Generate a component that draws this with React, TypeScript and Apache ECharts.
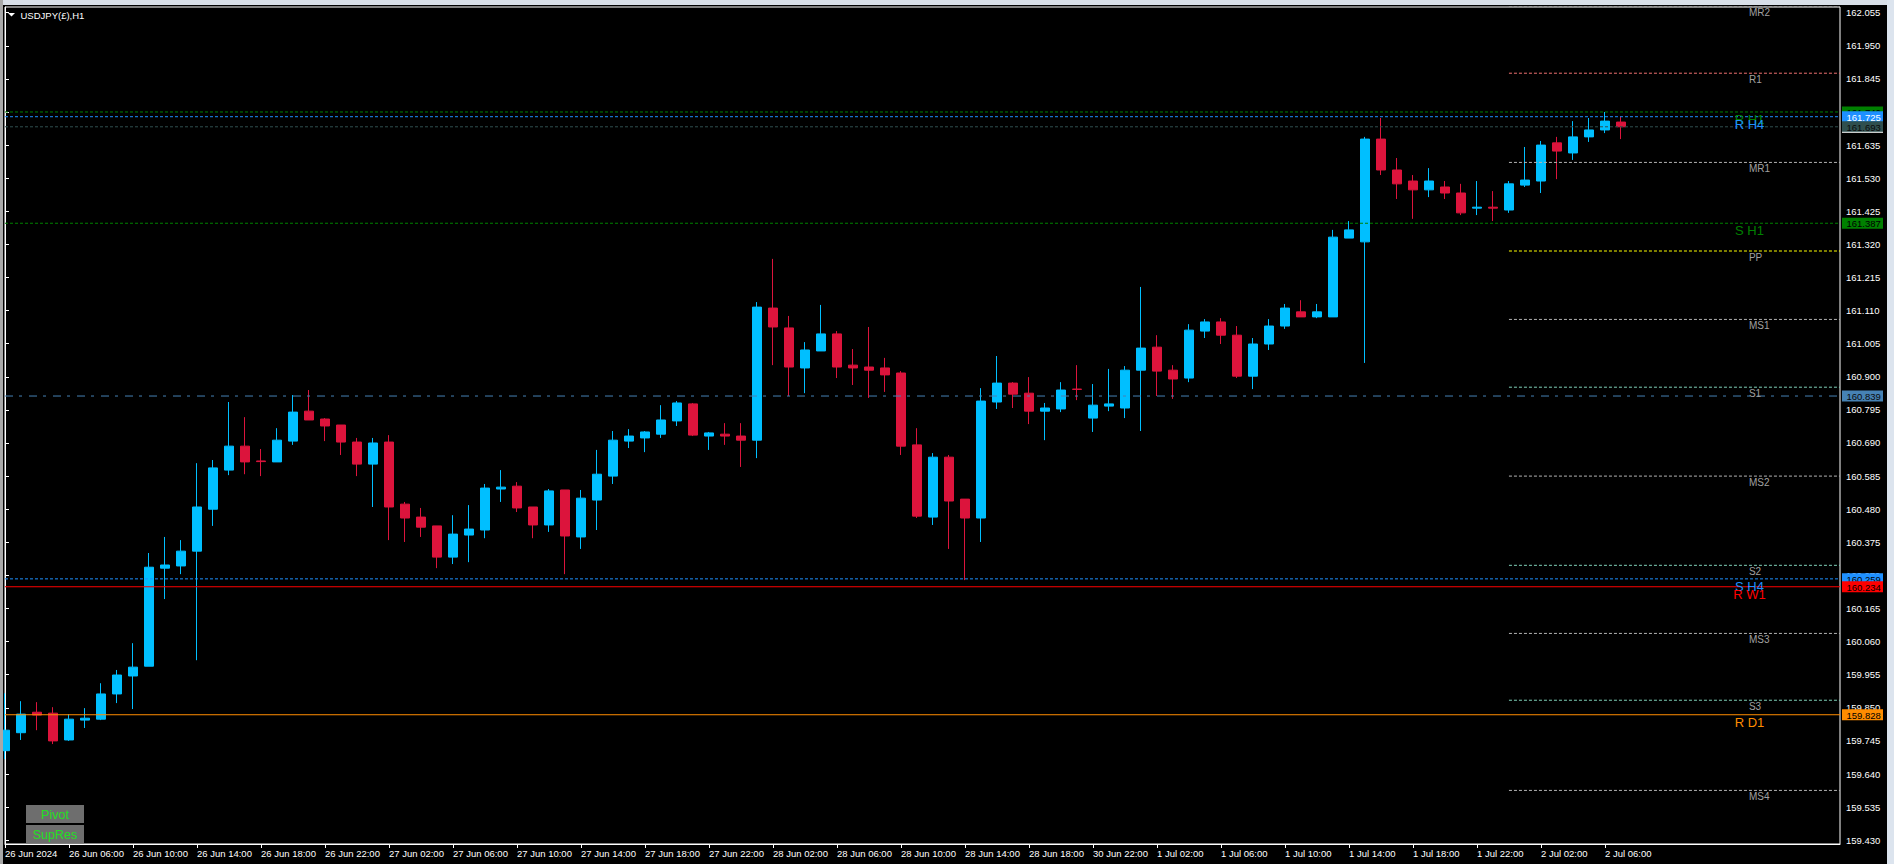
import React, { useEffect, useRef } from 'react';
import * as echarts from 'echarts';

// [open, close, low, high] per H1 bar, 26 Jun 02:00 onwards
const ohlc: number[][] = [
  [159.714, 159.779, 159.687, 159.896],
  [159.771, 159.830, 159.748, 159.871],
  [159.836, 159.827, 159.779, 159.868],
  [159.833, 159.745, 159.735, 159.852],
  [159.748, 159.814, 159.745, 159.830],
  [159.811, 159.817, 159.786, 159.849],
  [159.814, 159.894, 159.811, 159.928],
  [159.894, 159.954, 159.865, 159.970],
  [159.951, 159.979, 159.846, 160.055],
  [159.982, 160.296, 159.982, 160.341],
  [160.293, 160.303, 160.195, 160.392],
  [160.300, 160.347, 160.274, 160.382],
  [160.347, 160.487, 160.001, 160.626],
  [160.480, 160.611, 160.427, 160.636],
  [160.604, 160.680, 160.588, 160.820],
  [160.680, 160.630, 160.591, 160.772],
  [160.633, 160.631, 160.585, 160.671],
  [160.630, 160.699, 160.630, 160.737],
  [160.696, 160.788, 160.684, 160.842],
  [160.791, 160.763, 160.763, 160.858],
  [160.766, 160.744, 160.696, 160.769],
  [160.747, 160.693, 160.652, 160.747],
  [160.693, 160.623, 160.585, 160.706],
  [160.623, 160.690, 160.487, 160.706],
  [160.693, 160.487, 160.382, 160.715],
  [160.496, 160.452, 160.376, 160.503],
  [160.455, 160.423, 160.392, 160.484],
  [160.427, 160.328, 160.293, 160.427],
  [160.328, 160.401, 160.306, 160.461],
  [160.398, 160.417, 160.312, 160.493],
  [160.414, 160.547, 160.388, 160.560],
  [160.544, 160.550, 160.503, 160.604],
  [160.553, 160.484, 160.471, 160.566],
  [160.487, 160.430, 160.388, 160.487],
  [160.430, 160.538, 160.408, 160.544],
  [160.541, 160.395, 160.274, 160.541],
  [160.392, 160.515, 160.354, 160.541],
  [160.509, 160.591, 160.414, 160.668],
  [160.585, 160.699, 160.560, 160.728],
  [160.696, 160.712, 160.674, 160.734],
  [160.706, 160.725, 160.661, 160.728],
  [160.718, 160.763, 160.706, 160.810],
  [160.760, 160.817, 160.744, 160.823],
  [160.814, 160.715, 160.712, 160.817],
  [160.712, 160.722, 160.668, 160.725],
  [160.718, 160.712, 160.684, 160.753],
  [160.712, 160.699, 160.614, 160.753],
  [160.699, 161.121, 160.642, 161.137],
  [161.118, 161.058, 160.937, 161.274],
  [161.055, 160.931, 160.839, 161.093],
  [160.928, 160.985, 160.848, 161.010],
  [160.982, 161.036, 160.982, 161.128],
  [161.036, 160.931, 160.896, 161.045],
  [160.937, 160.928, 160.874, 160.988],
  [160.931, 160.921, 160.833, 161.058],
  [160.928, 160.906, 160.852, 160.960],
  [160.912, 160.680, 160.652, 160.918],
  [160.684, 160.458, 160.452, 160.737],
  [160.455, 160.645, 160.430, 160.658],
  [160.645, 160.506, 160.354, 160.652],
  [160.512, 160.452, 160.255, 160.512],
  [160.452, 160.823, 160.376, 160.864],
  [160.820, 160.880, 160.798, 160.966],
  [160.880, 160.845, 160.801, 160.883],
  [160.848, 160.791, 160.750, 160.899],
  [160.791, 160.801, 160.699, 160.817],
  [160.798, 160.858, 160.788, 160.883],
  [160.861, 160.860, 160.826, 160.937],
  [160.769, 160.810, 160.725, 160.877],
  [160.807, 160.814, 160.791, 160.925],
  [160.801, 160.921, 160.769, 160.934],
  [160.921, 160.991, 160.728, 161.185],
  [160.994, 160.918, 160.839, 161.032],
  [160.921, 160.893, 160.830, 160.937],
  [160.896, 161.048, 160.883, 161.067],
  [161.045, 161.074, 161.023, 161.083],
  [161.074, 161.032, 161.004, 161.086],
  [161.032, 160.902, 160.896, 161.061],
  [160.902, 161.004, 160.861, 161.023],
  [161.004, 161.061, 160.985, 161.083],
  [161.061, 161.118, 161.052, 161.131],
  [161.106, 161.090, 161.090, 161.143],
  [161.090, 161.106, 161.086, 161.131],
  [161.090, 161.343, 161.090, 161.366],
  [161.340, 161.366, 161.340, 161.394],
  [161.328, 161.654, 160.944, 161.661],
  [161.654, 161.556, 161.540, 161.721],
  [161.556, 161.512, 161.464, 161.594],
  [161.521, 161.493, 161.401, 161.540],
  [161.493, 161.521, 161.470, 161.562],
  [161.502, 161.483, 161.464, 161.521],
  [161.483, 161.420, 161.413, 161.512],
  [161.435, 161.438, 161.413, 161.521],
  [161.438, 161.435, 161.394, 161.489],
  [161.429, 161.512, 161.420, 161.521],
  [161.508, 161.524, 161.502, 161.629],
  [161.521, 161.635, 161.483, 161.648],
  [161.642, 161.616, 161.527, 161.661],
  [161.610, 161.661, 161.588, 161.711],
  [161.661, 161.683, 161.645, 161.721],
  [161.683, 161.711, 161.673, 161.740],
  [161.708, 161.693, 161.654, 161.725],
];

const xTickBars = [0, 4, 8, 12, 16, 20, 24, 28, 32, 36, 40, 44, 48, 52, 56, 60, 64, 68, 72, 76, 80, 84, 88, 92, 96, 100];
const xTickLabels = [
  '26 Jun 2024', '26 Jun 06:00', '26 Jun 10:00', '26 Jun 14:00', '26 Jun 18:00', '26 Jun 22:00',
  '27 Jun 02:00', '27 Jun 06:00', '27 Jun 10:00', '27 Jun 14:00', '27 Jun 18:00', '27 Jun 22:00',
  '28 Jun 02:00', '28 Jun 06:00', '28 Jun 10:00', '28 Jun 14:00', '28 Jun 18:00', '30 Jun 22:00',
  '1 Jul 02:00', '1 Jul 06:00', '1 Jul 10:00', '1 Jul 14:00', '1 Jul 18:00', '1 Jul 22:00',
  '2 Jul 02:00', '2 Jul 06:00',
];
const yTicks = [
  162.055, 161.95, 161.845, 161.74, 161.635, 161.53, 161.425, 161.32, 161.215, 161.11, 161.005,
  160.9, 160.795, 160.69, 160.585, 160.48, 160.375, 160.27, 160.165, 160.06, 159.955, 159.85,
  159.745, 159.64, 159.535, 159.43,
];

const pivotNames = ['MR2', 'R1', 'MR1', 'PP', 'MS1', 'S1', 'MS2', 'S2', 'MS3', 'S3', 'MS4'];
const pivotValues = [162.075, 161.863, 161.58, 161.299, 161.082, 160.867, 160.585, 160.302, 160.086, 159.874, 159.588];
const pivotStartBar = 94;

const levelNames = ['R H1', 'R H4', 'Bid', 'S H1', 'Line', 'S H4', 'R W1', 'R D1'];
const levelValues = [161.74, 161.725, 161.693, 161.387, 160.839, 160.259, 160.234, 159.828];

const levelStyle: Record<string, any> = {
  'R H1': { color: '#008000', type: [3, 2], text: '#000', label: true },
  'R H4': { color: '#1E90FF', type: [3, 2], text: '#fff', label: true },
  Bid: { color: '#2F4F4F', type: [3, 2], text: '#0a0a0a', label: false },
  'S H1': { color: '#008000', type: [3, 2], text: '#000', label: true },
  Line: { color: '#4682B4', type: [8, 6, 3, 7], text: '#0a0a0a', label: false },
  'S H4': { color: '#1E90FF', type: [3, 2], text: '#000', label: true },
  'R W1': { color: '#FF0000', type: 'solid', text: '#000', label: true },
  'R D1': { color: '#FF8C00', type: 'solid', text: '#000', label: true },
};
const pivotColor = (n: string) =>
  n === 'PP' ? '#FFFF00' : n.startsWith('M') ? '#B4B4B4' : n.startsWith('R') ? '#F07070' : '#7FD0B8';

const X_MAX = 114.69;
const Y_MIN = 159.418;
const Y_MAX = 162.073;
const FONT = '"Liberation Sans", Arial, sans-serif';

export default function App() {
  const ref = useRef<HTMLDivElement>(null);
  useEffect(() => {
    document.body.style.margin = '0';
    const chart = echarts.init(ref.current!, null, { renderer: 'svg' });
    const series: any[] = [
      {
        type: 'candlestick',
        data: ohlc.map((d, i) => [i, d[0], d[1], d[2], d[3]]),
        encode: { x: 0, y: [1, 2, 3, 4] },
        barWidth: 10,
        silent: true,
        z: 2,
        itemStyle: {
          color: '#00BFFF',
          color0: '#DC143C',
          borderColor: '#00BFFF',
          borderColor0: '#DC143C',
          borderWidth: 1,
        },
      },
    ];
    pivotValues.forEach((v, i) => {
      series.push({
        type: 'line',
        data: [[pivotStartBar, v], [X_MAX, v]],
        symbol: 'none',
        silent: true,
        z: 3,
        lineStyle: { color: pivotColor(pivotNames[i]), width: 1, type: [3, 2] },
      });
    });
    levelValues.forEach((v, i) => {
      const s = levelStyle[levelNames[i]];
      series.push({
        type: 'line',
        data: [[0, v], [X_MAX, v]],
        symbol: 'none',
        silent: true,
        z: 4,
        lineStyle: { color: s.color, width: 1, type: s.type },
      });
    });

    chart.setOption({
      animation: false,
      backgroundColor: '#000',
      grid: {
        left: 5,
        top: 7,
        right: 54,
        bottom: 20,
        show: true,
        borderColor: '#ffffff',
        borderWidth: 1,
        backgroundColor: '#000',
      },
      xAxis: {
        type: 'value',
        min: 0,
        max: X_MAX,
        axisLine: { show: true, lineStyle: { color: '#fff', width: 1 } },
        axisTick: { show: true, length: 4, lineStyle: { color: '#fff' }, customValues: xTickBars },
        splitLine: { show: false },
        axisLabel: {
          customValues: xTickBars,
          formatter: (v: number) => xTickLabels[xTickBars.indexOf(Math.round(v))] ?? '',
          color: '#fff',
          fontSize: 9.5,
          fontFamily: FONT,
          align: 'left',
          margin: 4,
        },
      },
      yAxis: {
        type: 'value',
        position: 'right',
        min: Y_MIN,
        max: Y_MAX,
        scale: true,
        axisLine: { show: true, lineStyle: { color: '#fff', width: 1 } },
        axisTick: { show: true, length: 4, lineStyle: { color: '#fff' }, customValues: yTicks },
        splitLine: { show: false },
        axisLabel: {
          customValues: yTicks,
          formatter: (v: number) => v.toFixed(3),
          color: '#fff',
          fontSize: 9.5,
          fontFamily: FONT,
          margin: 6,
        },
      },
      series,
    });

    const px = (bar: number, v: number) => chart.convertToPixel({ gridIndex: 0 }, [bar, v]) as number[];
    const g: any[] = [];
    g.push({ type: 'rect', shape: { x: 0, y: 0, width: 1894, height: 5 }, style: { fill: '#d8dfe8' }, z: 200 });
    g.push({ type: 'rect', shape: { x: 0, y: 0, width: 3, height: 864 }, style: { fill: '#a8a8a8' }, z: 200 });
    g.push({ type: 'rect', shape: { x: 1887, y: 0, width: 7, height: 864 }, style: { fill: '#dce4ee' }, z: 200 });
    g.push({ type: 'polygon', shape: { points: [[8, 13], [15, 13], [11.5, 16.5]] }, style: { fill: '#fff' }, z: 150 });
    g.push({
      type: 'text',
      style: { text: 'USDJPY(£),H1', x: 20.5, y: 15, fill: '#fff', fontSize: 9.5, fontFamily: FONT, textVerticalAlign: 'middle', verticalAlign: 'middle' },
      z: 150,
    });
    [['Pivot', 805], ['SupRes', 825]].forEach(([t, y]) => {
      g.push({ type: 'rect', shape: { x: 26, y: y as number, width: 58, height: 18 }, style: { fill: '#6e6e6e' }, z: 150 });
      g.push({
        type: 'text',
        style: {
          text: t, x: 55, y: (y as number) + 9.5, fill: '#22e022', fontSize: 12.5, fontFamily: FONT,
          textAlign: 'center', align: 'center', textVerticalAlign: 'middle', verticalAlign: 'middle',
        },
        z: 151,
      });
    });
    pivotValues.forEach((v, i) => {
      const [x, y] = px(109, v);
      g.push({
        type: 'text',
        style: {
          text: pivotNames[i], x, y: y + 1.5, fill: '#a0a0a0', fontSize: 10, fontFamily: FONT,
          textAlign: 'left', align: 'left', textVerticalAlign: 'top', verticalAlign: 'top',
        },
        z: 120,
      });
    });
    levelValues.forEach((v, i) => {
      const s = levelStyle[levelNames[i]];
      if (!s.label) return;
      const [x, y] = px(109.03, v);
      g.push({
        type: 'text',
        style: {
          text: levelNames[i], x, y: y + 1, fill: s.color, fontSize: 13, fontFamily: FONT,
          textAlign: 'center', align: 'center', textVerticalAlign: 'top', verticalAlign: 'top',
        },
        z: 121,
      });
    });
    levelValues.forEach((v, i) => {
      const s = levelStyle[levelNames[i]];
      const [, y] = px(0, v);
      g.push({ type: 'rect', shape: { x: 1842, y: y - 5.5, width: 41, height: 11 }, style: { fill: s.color }, z: 130 + i });
      g.push({
        type: 'text',
        style: {
          text: v.toFixed(3), x: 1846.5, y: y + 0.5, fill: s.text, fontSize: 9.5, fontFamily: FONT,
          textAlign: 'left', align: 'left', textVerticalAlign: 'middle', verticalAlign: 'middle',
        },
        z: 130 + i,
      });
      if (levelNames[i] === 'Bid') {
        g.push({ type: 'line', shape: { x1: 1842, y1: y + 5.5, x2: 1883, y2: y + 5.5 }, style: { stroke: '#fff', lineWidth: 1 }, z: 140 });
      }
    });
    chart.setOption({ graphic: g });
    return () => chart.dispose();
  }, []);
  return <div ref={ref} style={{ width: 1894, height: 864 }} />;
}
